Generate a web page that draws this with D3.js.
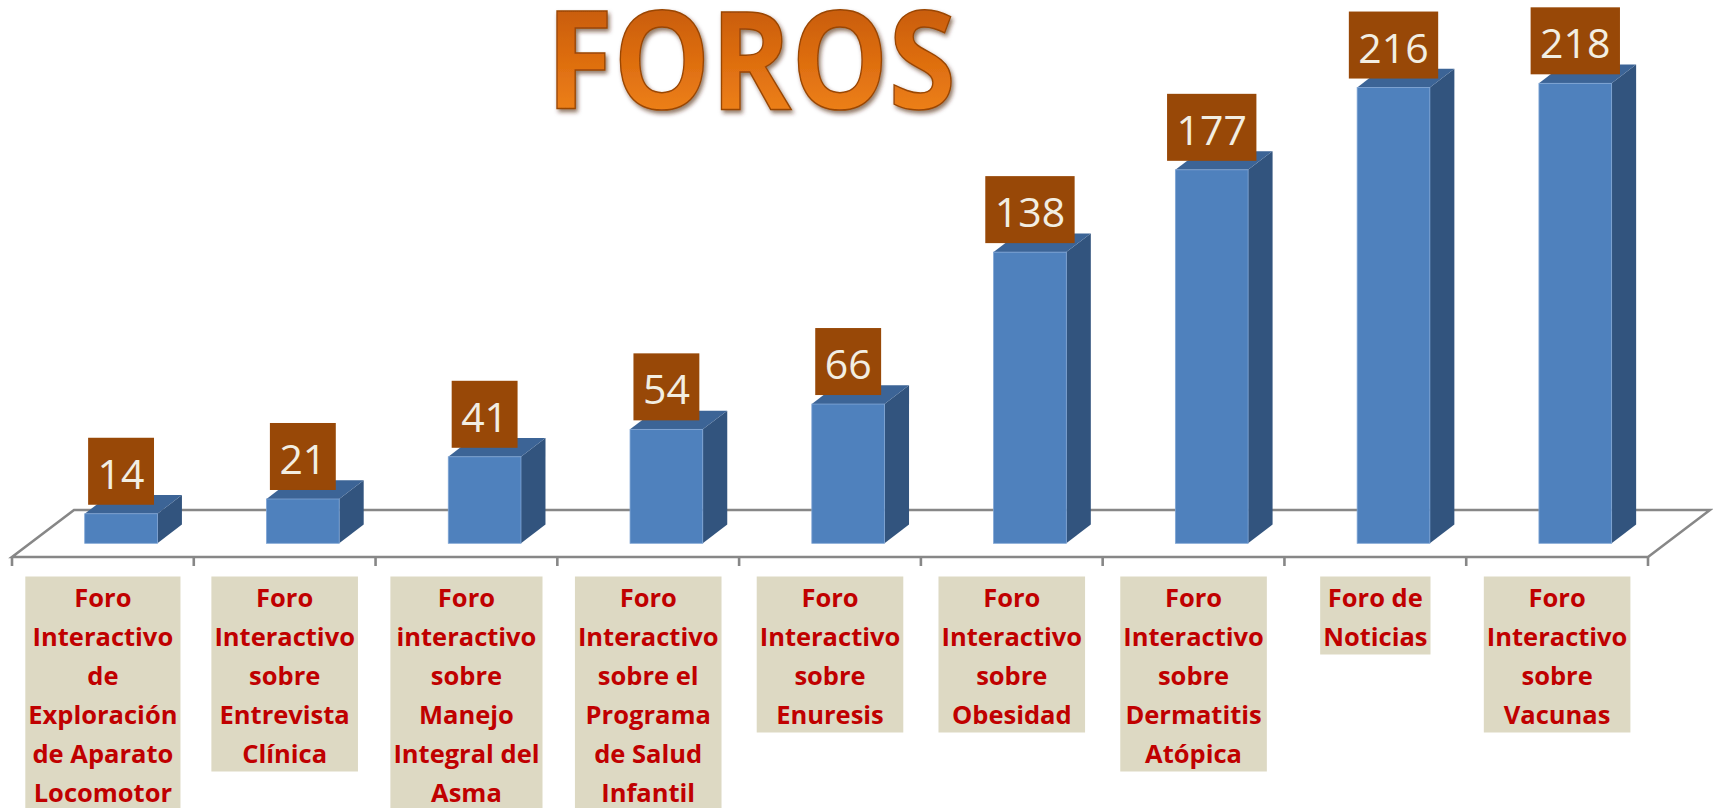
<!DOCTYPE html>
<html>
<head>
<meta charset="utf-8">
<script src="https://cdn.jsdelivr.net/npm/d3@7"></script>
<style>
html,body{margin:0;padding:0;background:#fff;}
svg{display:block;}
</style>
</head>
<body>
<svg id="chart" width="1713" height="808"></svg>
<script>
const title = "FOROS";
const categories = [
  "Foro\nInteractivo\nde\nExploración\nde Aparato\nLocomotor",
  "Foro\nInteractivo\nsobre\nEntrevista\nClínica",
  "Foro\ninteractivo\nsobre\nManejo\nIntegral del\nAsma",
  "Foro\nInteractivo\nsobre el\nPrograma\nde Salud\nInfantil",
  "Foro\nInteractivo\nsobre\nEnuresis",
  "Foro\nInteractivo\nsobre\nObesidad",
  "Foro\nInteractivo\nsobre\nDermatitis\nAtópica",
  "Foro de\nNoticias",
  "Foro\nInteractivo\nsobre\nVacunas"
];
const values = [14, 21, 41, 54, 66, 138, 177, 216, 218];
const yDomain = [0, 250];

const svg = d3.select("#chart");
const defs = svg.append("defs");

// geometry
const floorFrontY = 557, floorLeft = 12, floorRight = 1648;
const floorDX = 62, floorDY = -47;
const baseY = 543.3;
const barDX = 24.5, barDY = -18.7;

const x = d3.scaleBand().domain(d3.range(categories.length)).range([floorLeft, floorRight]).paddingInner(0).paddingOuter(0);
const y = d3.scaleLinear().domain(yDomain).range([baseY, baseY - 250 * 2.11]);
const bw = x.bandwidth();

// Title gradient + shadow
const grad = defs.append("linearGradient").attr("id", "tg").attr("x1", 0).attr("y1", 0).attr("x2", 0).attr("y2", 1);
grad.append("stop").attr("offset", "0%").attr("stop-color", "#b64f0a");
grad.append("stop").attr("offset", "50%").attr("stop-color", "#dc6c0f");
grad.append("stop").attr("offset", "100%").attr("stop-color", "#f88d1f");
const f = defs.append("filter").attr("id", "ts").attr("x", "-10%").attr("y", "-10%").attr("width", "120%").attr("height", "130%");
f.append("feDropShadow").attr("dx", 2).attr("dy", 3).attr("stdDeviation", 2).attr("flood-color", "#4a2200").attr("flood-opacity", 0.6);

svg.append("text")
  .attr("x", 751).attr("y", 109)
  .attr("text-anchor", "middle")
  .attr("font-family", "'Open Sans', sans-serif")
  .attr("font-weight", 700)
  .attr("font-size", 137)
  .attr("textLength", 410)
  .attr("lengthAdjust", "spacingAndGlyphs")
  .attr("fill", "url(#tg)")
  .attr("stroke", "#9a4606").attr("stroke-width", 1.5)
  .attr("filter", "url(#ts)")
  .text(title);

// Floor (3D axis plane)
const floorColor = "#878787";
const floorG = svg.append("g").attr("fill", "none").attr("stroke", floorColor).attr("stroke-width", 2.6);
floorG.append("path").attr("d",
  `M${floorLeft},${floorFrontY} L${floorLeft + floorDX},${floorFrontY + floorDY} L${floorRight + floorDX},${floorFrontY + floorDY} L${floorRight},${floorFrontY} Z`);
// tick marks
const ticks = d3.range(categories.length + 1).map(i => floorLeft + i * bw);
floorG.selectAll("line.tick").data(ticks).join("line")
  .attr("x1", d => d).attr("x2", d => d)
  .attr("y1", floorFrontY).attr("y2", floorFrontY + 9);

// Bars
const barG = svg.append("g");
const bars = barG.selectAll("g.bar").data(values).join("g").attr("class", "bar");
const bx = i => x(i) + bw * 0.4;
const bWidth = bw * 0.4;
bars.append("path") // side
  .attr("fill", "#32547e")
  .attr("d", (d, i) => {
    const x1 = bx(i) + bWidth, yt = y(d);
    return `M${x1},${baseY} L${x1 + barDX},${baseY + barDY} L${x1 + barDX},${yt + barDY} L${x1},${yt} Z`;
  });
bars.append("path") // top
  .attr("fill", "#3c6496")
  .attr("d", (d, i) => {
    const x0 = bx(i), x1 = bx(i) + bWidth, yt = y(d);
    return `M${x0},${yt} L${x0 + barDX},${yt + barDY} L${x1 + barDX},${yt + barDY} L${x1},${yt} Z`;
  });
bars.append("rect") // front
  .attr("x", (d, i) => bx(i))
  .attr("y", d => y(d))
  .attr("width", bWidth)
  .attr("height", d => baseY - y(d))
  .attr("fill", "#4f81bd")
  .attr("stroke", "#7ea4d4").attr("stroke-width", 0.8);

// Value labels
const lab = svg.append("g").selectAll("g").data(values).join("g");
lab.each(function (d, i) {
  const g = d3.select(this);
  const cx = bx(i) + bWidth / 2;
  const bottom = y(d) - 9;
  const t = g.append("text")
    .attr("x", cx).attr("y", bottom - 16)
    .attr("text-anchor", "middle")
    .attr("font-family", "'Open Sans', sans-serif")
    .attr("font-size", 41)
    .attr("fill", "#f2eee2")
    .text(d);
  const w = t.node().getComputedTextLength() + 19;
  g.insert("rect", "text")
    .attr("x", cx - w / 2).attr("y", bottom - 67)
    .attr("width", w).attr("height", 67)
    .attr("fill", "#984807");
});

// Category labels
const lineH = 39, boxTop = 576.5;
const cat = svg.append("g").selectAll("g").data(categories).join("g");
cat.each(function (d, i) {
  const g = d3.select(this);
  const cx = x(i) + bw / 2;
  const lines = d.split("\n");
  const texts = lines.map((ln, k) => g.append("text")
    .attr("x", cx).attr("y", boxTop + 30 + k * lineH)
    .attr("text-anchor", "middle")
    .attr("font-family", "'Open Sans', sans-serif")
    .attr("font-weight", 700)
    .attr("font-size", 25.5)
    .attr("fill", "#c00000")
    .text(ln));
  const maxW = d3.max(texts, t => t.node().getComputedTextLength());
  const w = maxW + 6;
  g.insert("rect", "text")
    .attr("x", cx - w / 2).attr("y", boxTop)
    .attr("width", w).attr("height", lines.length * lineH)
    .attr("fill", "#ddd9c3");
});
</script>
</body>
</html>
